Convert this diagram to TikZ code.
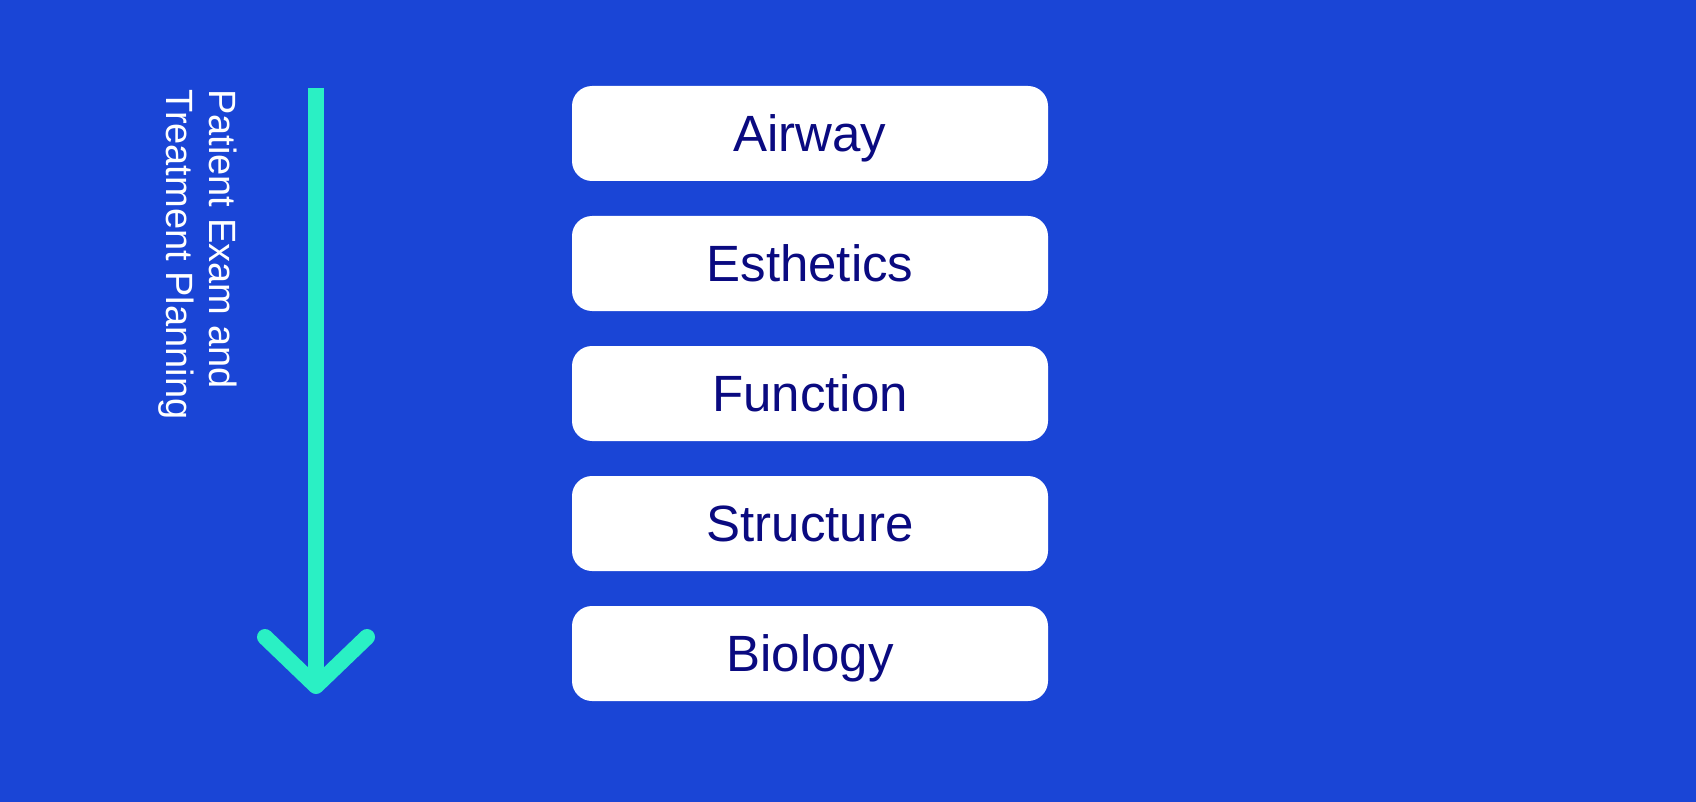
\documentclass[tikz,border=0pt]{standalone}
\usepackage{fontspec}
\setmainfont{Liberation Sans}
\usepackage{tikz}
\usetikzlibrary{arrows,shapes}
\definecolor{bgblue}{RGB}{26,69,214}
\definecolor{mint}{RGB}{42,240,196}
\definecolor{navy}{RGB}{10,10,128}
\tikzstyle{stage} = [fill=white, rounded corners=20pt, minimum width=476pt, minimum height=95pt, inner sep=0pt, text height=36pt, text depth=0pt, text=navy, font=\fontsize{51}{56}\selectfont]
\tikzstyle{flow} = [draw=mint, line width=16pt]

\begin{document}
\begin{tikzpicture}[x=1pt,y=-1pt]

    %background
    \fill[bgblue] (0,0) rectangle (1696,802);
    \useasboundingbox (0,0) rectangle (1696,802);

    %arrow
    \coordinate (top) at (316,88);
    \coordinate (tip) at (316,686);
    \coordinate (armL) at (265,637);
    \coordinate (armR) at (367,637);
    \draw[flow] (top) -- (tip);
    \draw[flow, line cap=round, line join=round] (armL) -- (tip) -- (armR);
    \node[rotate=-90, anchor=north west, inner sep=0pt, align=left, text=white, font=\fontsize{38}{43}\selectfont] at (237,89) (phase) {Patient Exam and\\Treatment Planning};

    %stages
     \foreach \lbl [count=\i] in {Airway,Esthetics,Function,Structure,Biology}
      {
        \node[stage] at (810,133.5+130*\i-130) (box\i) {\lbl};
      }

  \end{tikzpicture}
\end{document}
